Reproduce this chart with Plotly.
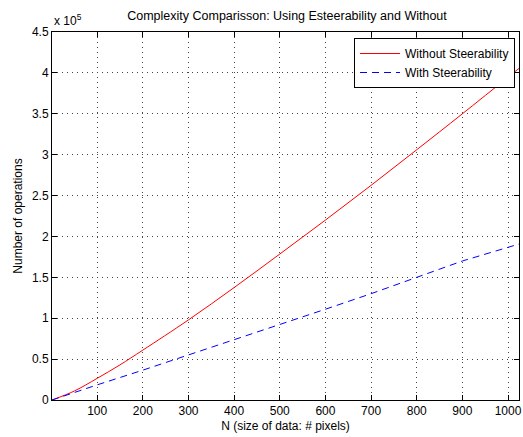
import plotly.graph_objects as go

# Data (values in units of 1e5 operations)
n_without = [1, 50, 100, 150, 200, 300, 400, 500, 600, 700, 800, 900, 1024]
ops_without = [0.0, 0.11, 0.265, 0.43, 0.61, 0.98, 1.375, 1.785, 2.20, 2.625, 3.06, 3.50, 4.055]

n_with = [1, 50, 100, 200, 300, 400, 500, 600, 700, 800, 900, 1024]
ops_with = [0.0, 0.095, 0.185, 0.365, 0.55, 0.74, 0.925, 1.11, 1.30, 1.50, 1.70, 1.907]

x_ticks = [100, 200, 300, 400, 500, 600, 700, 800, 900, 1000]
y_ticks = [0, 0.5, 1, 1.5, 2, 2.5, 3, 3.5, 4, 4.5]
y_tick_labels = ["0", "0.5", "1", "1.5", "2", "2.5", "3", "3.5", "4", "4.5"]
scale = 1e5

font_family = "Liberation Sans, Arial, Helvetica, sans-serif"

fig = go.Figure()
fig.add_trace(go.Scatter(
    x=n_without, y=[v * scale for v in ops_without], mode="lines",
    name="Without Steerability", line=dict(color="#ff0000", width=1),
    line_shape="spline"))
fig.add_trace(go.Scatter(
    x=n_with, y=[v * scale for v in ops_with], mode="lines",
    name="With Steerability", line=dict(color="#0000ff", width=1, dash="7px,5px")))

axis_common = dict(
    showline=True, linecolor="black", linewidth=1, mirror="ticks",
    ticks="inside", ticklen=5, tickcolor="black",
    showgrid=True, gridcolor="#444444", gridwidth=1, griddash="1px,4px",
    zeroline=False, ticklabeloverflow="allow",
    tickfont=dict(size=12, color="black", family=font_family),
)

fig.update_layout(
    width=523, height=437,
    margin=dict(l=52, r=1, t=32, b=37),
    paper_bgcolor="white", plot_bgcolor="white",
    font=dict(family=font_family, size=11, color="black"),
    title=dict(text="Complexity Comparisson: Using Esteerability and Without",
               x=(52 + 522) / 2 / 523, xanchor="center", y=1 - 16 / 437, yanchor="middle",
               font=dict(size=12.5, color="black", family=font_family)),
    xaxis=dict(range=[1, 1024], tickvals=x_ticks,
               title=dict(text="N (size of data: # pixels)", standoff=4,
                          font=dict(size=12, family=font_family)),
               **axis_common),
    yaxis=dict(range=[0, 4.5 * scale], tickvals=[v * scale for v in y_ticks],
               ticktext=y_tick_labels,
               title=dict(text="Number of operations", standoff=6,
                          font=dict(size=12, family=font_family)),
               **axis_common),
    legend=dict(x=(518 - 52) / 470, xanchor="right", y=(400 - 38) / 368, yanchor="top",
                bgcolor="white", bordercolor="black", borderwidth=1,
                font=dict(size=12, color="black", family=font_family),
                tracegroupgap=0, itemwidth=40, entrywidth=160, entrywidthmode="pixels"),
    showlegend=True,
    annotations=[dict(text="x 10<sup>5</sup>", xref="paper", yref="paper",
                      x=0, y=1, xanchor="left", yanchor="bottom", yshift=2,
                      showarrow=False, font=dict(size=12, family=font_family))],
)

fig.write_html("out.html")
